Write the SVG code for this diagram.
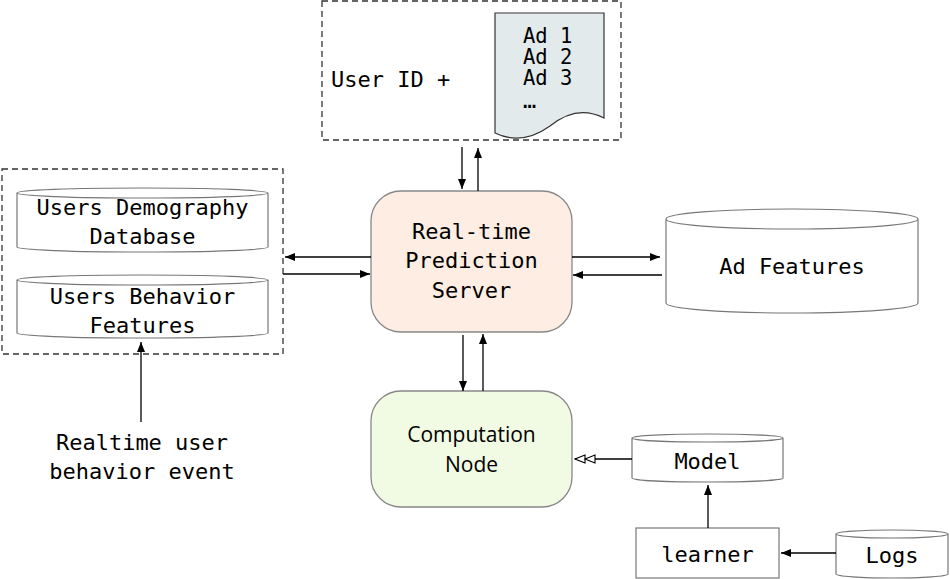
<svg xmlns="http://www.w3.org/2000/svg" width="950" height="579" viewBox="0 0 950 579">
<style>
.mono{font-family:"DejaVu Sans Mono","Liberation Mono",monospace;font-size:22px;fill:#000}
.ad{font-size:20.5px}
.sans{font-family:"Open Sans","Liberation Sans",sans-serif;font-size:21px;fill:#000}
.dash{fill:none;stroke:#333;stroke-width:1.3;stroke-dasharray:6 4}
.cyl{fill:#fff;stroke:#777;stroke-width:1.2}
.box{stroke:#888;stroke-width:1.3}
.ln{fill:none;stroke:#000;stroke-width:1.3}
</style>
<defs>
<marker id="ah" viewBox="0 0 10 8" refX="10" refY="4" markerWidth="10" markerHeight="8" orient="auto" markerUnits="userSpaceOnUse"><path d="M0,0 L10,4 L0,8 Z" fill="#000"/></marker>
<marker id="dbl" viewBox="0 0 22 10" refX="21" refY="5" markerWidth="22" markerHeight="10" orient="auto" markerUnits="userSpaceOnUse"><path d="M1,1 L11,5 L1,9 Z M11,1 L21,5 L11,9 Z" fill="#fff" stroke="#000" stroke-width="1.1"/></marker>
</defs>

<g id="request">
<rect class="dash" x="322" y="1" width="299" height="139"/>
<text class="mono" x="331" y="87">User ID +</text>
<path d="M495,13 H604 V118 Q577,104 550,126 Q522,146 495,133 Z" fill="#e3eaec" stroke="#333" stroke-width="1.2"/>
<text class="mono ad" x="523" y="43">Ad 1</text>
<text class="mono ad" x="523" y="64">Ad 2</text>
<text class="mono ad" x="523" y="85">Ad 3</text>
<text class="mono" x="523" y="108" font-size="16">…</text>
</g>

<g id="user-data">
<rect class="dash" x="2" y="169" width="281" height="185"/>
<g id="users-demography">
<path class="cyl" d="M17,193 A125.5,5 0 0 1 268,193 V247 A125.5,5 0 0 1 17,247 Z M17,193 A125.5,5 0 0 0 268,193"/>
<text class="mono" x="142.5" y="215" text-anchor="middle">Users Demography</text>
<text class="mono" x="142.5" y="244" text-anchor="middle">Database</text>
</g>
<g id="users-behavior">
<path class="cyl" d="M17,280 A125.5,5 0 0 1 268,280 V333 A125.5,5 0 0 1 17,333 Z M17,280 A125.5,5 0 0 0 268,280"/>
<text class="mono" x="142.5" y="304" text-anchor="middle">Users Behavior</text>
<text class="mono" x="142.5" y="333" text-anchor="middle">Features</text>
</g>
</g>

<g id="event">
<text class="mono" x="142" y="450" text-anchor="middle">Realtime user</text>
<text class="mono" x="142" y="479" text-anchor="middle">behavior event</text>
</g>

<g id="server">
<rect class="box" x="371" y="191" width="201" height="141" rx="30" ry="30" fill="#fdede2"/>
<text class="mono" x="471.5" y="239" text-anchor="middle">Real-time</text>
<text class="mono" x="471.5" y="268" text-anchor="middle">Prediction</text>
<text class="mono" x="471.5" y="298" text-anchor="middle">Server</text>
</g>

<g id="ad-features">
<path class="cyl" d="M666,219 A126,10 0 0 1 918,219 V303 A126,10 0 0 1 666,303 Z M666,219 A126,10 0 0 0 918,219"/>
<text class="mono" x="792" y="274" text-anchor="middle">Ad Features</text>
</g>

<g id="computation">
<rect class="box" x="371" y="391" width="201" height="116" rx="30" ry="30" fill="#f1fae2"/>
<text class="sans" x="471.5" y="442" text-anchor="middle">Computation</text>
<text class="sans" x="471.5" y="472" text-anchor="middle">Node</text>
</g>

<g id="model">
<path class="cyl" d="M632,438 A75.5,4 0 0 1 783,438 V478 A75.5,4 0 0 1 632,478 Z M632,438 A75.5,4 0 0 0 783,438"/>
<text class="mono" x="707.5" y="469" text-anchor="middle">Model</text>
</g>

<g id="learner">
<rect x="636" y="528" width="143" height="50" fill="#fff" stroke="#777" stroke-width="1.2"/>
<text class="mono" x="707.5" y="562" text-anchor="middle">learner</text>
</g>

<g id="logs">
<path class="cyl" d="M836,534 A56,4 0 0 1 948,534 V574 A56,4 0 0 1 836,574 Z M836,534 A56,4 0 0 0 948,534"/>
<text class="mono" x="892" y="563" text-anchor="middle">Logs</text>
</g>

<g id="connectors">
<line class="ln" x1="462" y1="147" x2="462" y2="189" marker-end="url(#ah)"/>
<line class="ln" x1="478" y1="191" x2="478" y2="148" marker-end="url(#ah)"/>
<line class="ln" x1="371" y1="257" x2="285" y2="257" marker-end="url(#ah)"/>
<line class="ln" x1="283" y1="274" x2="370" y2="274" marker-end="url(#ah)"/>
<line class="ln" x1="572" y1="257" x2="660" y2="257" marker-end="url(#ah)"/>
<line class="ln" x1="662" y1="275" x2="573" y2="275" marker-end="url(#ah)"/>
<line class="ln" x1="463" y1="335" x2="463" y2="391" marker-end="url(#ah)"/>
<line class="ln" x1="483" y1="391" x2="483" y2="334" marker-end="url(#ah)"/>
<line class="ln" x1="141" y1="422" x2="141" y2="342" marker-end="url(#ah)"/>
<line class="ln" x1="632" y1="459" x2="575" y2="459" marker-end="url(#dbl)"/>
<line class="ln" x1="708" y1="528" x2="708" y2="485" marker-end="url(#ah)"/>
<line class="ln" x1="836" y1="553" x2="781" y2="553" marker-end="url(#ah)"/>
</g>
</svg>
